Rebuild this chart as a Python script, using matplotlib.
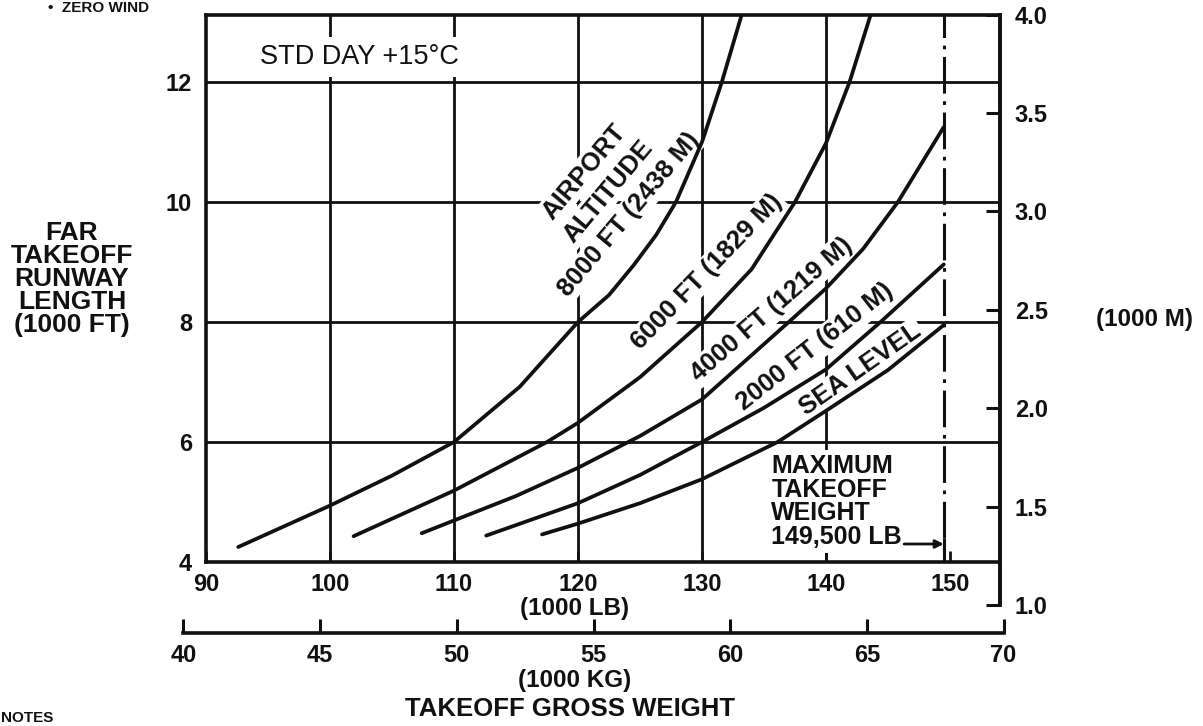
import matplotlib
matplotlib.use("Agg")
import matplotlib.pyplot as plt

plt.rcParams['font.family'] = ['Liberation Sans', 'DejaVu Sans']
plt.rcParams['font.weight'] = 'bold'

INK = '#111111'
LB_PER_KG = 2.20462
FT_PER_M = 3.28084

# takeoff gross weight (1000 lb) -> FAR runway length (1000 ft), one pair per airport altitude
sl_lb = [117.1, 120.0, 125.0, 130.0, 136.1, 140.0, 145.0, 149.5]
sl_ft = [4.46, 4.64, 4.98, 5.38, 6.0, 6.52, 7.2, 7.95]

a2000_lb = [112.6, 120.0, 125.0, 130.0, 135.0, 140.0, 144.4, 149.5]
a2000_ft = [4.44, 4.98, 5.45, 6.0, 6.57, 7.21, 8.0, 8.96]

a4000_lb = [107.4, 115.0, 120.0, 125.0, 130.0, 137.0, 140.0, 143.0, 145.8, 149.5]
a4000_ft = [4.48, 5.1, 5.57, 6.1, 6.71, 8.0, 8.56, 9.22, 10.0, 11.25]

a6000_lb = [101.9, 110.0, 117.5, 120.0, 125.0, 130.0, 134.0, 137.5, 140.0, 141.9, 143.6]
a6000_ft = [4.43, 5.19, 6.0, 6.32, 7.08, 8.0, 8.88, 10.0, 10.98, 12.0, 13.12]

a8000_lb = [92.6, 100.0, 105.0, 110.0, 115.3, 120.0, 122.5, 124.5, 126.3, 127.9, 130.0, 131.6, 133.2]
a8000_ft = [4.25, 4.94, 5.44, 6.0, 6.92, 8.0, 8.45, 8.95, 9.45, 10.0, 11.0, 12.0, 13.12]

max_tow = 149.5  # 1000 lb

lb_ticks = [90, 100, 110, 120, 130, 140, 150]
lb_grid = [100, 110, 120, 130, 140]
ft_ticks = [4, 6, 8, 10, 12]
ft_grid = [6, 8, 10, 12]
m_ticks = [1.0, 1.5, 2.0, 2.5, 3.0, 3.5, 4.0]
kg_ticks = [40, 45, 50, 55, 60, 65, 70]

# figure layout (pixels of a 1203 x 726 canvas)
W, H = 1203, 726
X90, PX_LB = 206, 12.4        # pixel of 90 klb, pixels per klb
Y4, PX_FT = 562, 60           # pixel of 4 kft, pixels per kft
XMAX = 154
ytop = 4.0 * FT_PER_M
ybot = 1.0 * FT_PER_M

fig = plt.figure(figsize=(W / 100, H / 100), dpi=100)
top_px = Y4 - (ytop - 4) * PX_FT
bot_px = Y4 + (4 - ybot) * PX_FT
ax = fig.add_axes([X90 / W, 1 - bot_px / H, (XMAX - 90) * PX_LB / W, (bot_px - top_px) / H])
ax.set_xlim(90, XMAX)
ax.set_ylim(ybot, ytop)

for s in ax.spines.values():
    s.set_linewidth(2.6)
    s.set_color(INK)
    s.set_zorder(5)
ax.spines['left'].set_bounds(4, ytop)
ax.spines['bottom'].set_position(('data', 4))

ax.set_xticks(lb_ticks)
ax.set_yticks(ft_ticks)
ax.xaxis.tick_bottom()
ax.yaxis.tick_left()
ax.tick_params(axis='x', direction='in', length=8, width=2, pad=8, labelsize=17, colors=INK)
ax.tick_params(axis='y', length=0, pad=10, labelsize=17, colors=INK)

# grid
ax.hlines(ft_grid, 90, XMAX, color=INK, lw=2.0, zorder=1)
ax.vlines(lb_grid, 4, ytop, color=INK, lw=2.0, zorder=1)
ax.vlines(max_tow, 4, 4.4, color=INK, lw=2.2, zorder=1)
ax.vlines(max_tow, 4.4, ytop, color=INK, lw=2.2, zorder=1,
          linestyles=[(0, (12, 2.5, 1.2, 2.5))])

# curves
for xs, ys in [(sl_lb, sl_ft), (a2000_lb, a2000_ft), (a4000_lb, a4000_ft),
               (a6000_lb, a6000_ft), (a8000_lb, a8000_ft)]:
    ax.plot(xs, ys, color=INK, lw=2.7, solid_capstyle='round', solid_joinstyle='round', zorder=4)

box = dict(facecolor='white', edgecolor='none', pad=1.5)
curve_labels = [
    ("AIRPORT", 120.5, 10.5, 50),
    ("ALTITUDE", 122.4, 10.17, 50),
    ("8000 FT (2438 M)", 124.1, 9.79, 50),
    ("6000 FT (1829 M)", 130.4, 8.84, 46),
    ("4000 FT (1219 M)", 135.6, 8.21, 41),
    ("2000 FT (610 M)", 139.1, 7.58, 38),
    ("SEA LEVEL", 142.8, 7.21, 35),
]
for txt, x, y, rot in curve_labels:
    ax.text(x, y, txt, rotation=rot, rotation_mode='anchor', ha='center', va='center',
            fontsize=18.5, color=INK, bbox=box, zorder=3)

ax.text(102.4, 12.42, "STD DAY +15°C", ha='center', va='center', fontsize=19.5,
        fontweight='normal', color=INK, zorder=3,
        bbox=dict(facecolor='white', edgecolor='none', pad=5))

ax.text(135.6, 5.8, f"MAXIMUM\nTAKEOFF\nWEIGHT\n{max_tow * 1000:,.0f} LB", ha='left', va='top',
        fontsize=18, linespacing=0.98, color=INK, zorder=3,
        bbox=dict(facecolor='white', edgecolor='none', pad=3))
ax.annotate('', xy=(max_tow, 4.3), xytext=(146.3, 4.3),
            arrowprops=dict(arrowstyle='-|>', lw=2, color=INK, mutation_scale=12,
                            shrinkA=0, shrinkB=0), zorder=4)

# metric runway scale on the right
sec = ax.secondary_yaxis('right', functions=(lambda f: f / FT_PER_M, lambda m: m * FT_PER_M))
sec.set_ticks(m_ticks, labels=[f"{v:.1f}" for v in m_ticks])
sec.tick_params(direction='in', length=10, width=2.2, pad=11, labelsize=17, colors=INK)
sec.spines['right'].set_linewidth(2.6)
sec.spines['right'].set_color(INK)

# metric weight scale below
kg_l = X90 + (kg_ticks[0] * LB_PER_KG - 90) * PX_LB
kg_r = X90 + (kg_ticks[-1] * LB_PER_KG - 90) * PX_LB
axk = fig.add_axes([kg_l / W, 1 - 633 / H, (kg_r - kg_l) / W, 0.0001])
axk.set_facecolor('none')
axk.set_xlim(kg_ticks[0], kg_ticks[-1])
axk.set_xticks(kg_ticks)
axk.set_yticks([])
for side in ['top', 'left', 'right']:
    axk.spines[side].set_visible(False)
axk.spines['bottom'].set_linewidth(2.6)
axk.spines['bottom'].set_color(INK)
axk.tick_params(axis='x', direction='in', length=10, width=2.2, pad=8, labelsize=17, colors=INK)

# outer labels
fig.text(72 / W, 1 - 279 / H, "FAR\nTAKEOFF\nRUNWAY\nLENGTH\n(1000 FT)", ha='center', va='center',
         fontsize=19, linespacing=0.95, color=INK)
fig.text(1145 / W, 1 - 319 / H, "(1000 M)", ha='center', va='center', fontsize=17.5, color=INK)
fig.text(575 / W, 1 - 608 / H, "(1000 LB)", ha='center', va='center', fontsize=17.5, color=INK)
fig.text(575 / W, 1 - 680 / H, "(1000 KG)", ha='center', va='center', fontsize=17.5, color=INK)
fig.text(570 / W, 1 - 709 / H, "TAKEOFF GROSS WEIGHT", ha='center', va='center', fontsize=18.5, color=INK)
fig.text(48 / W, 1 - 1 / H, "•  ZERO WIND", ha='left', va='top', fontsize=11, color=INK)
fig.text(1 / W, 1 / H, "NOTES", ha='left', va='bottom', fontsize=11, color=INK)

fig.savefig("out.png", dpi=100, facecolor='white')
